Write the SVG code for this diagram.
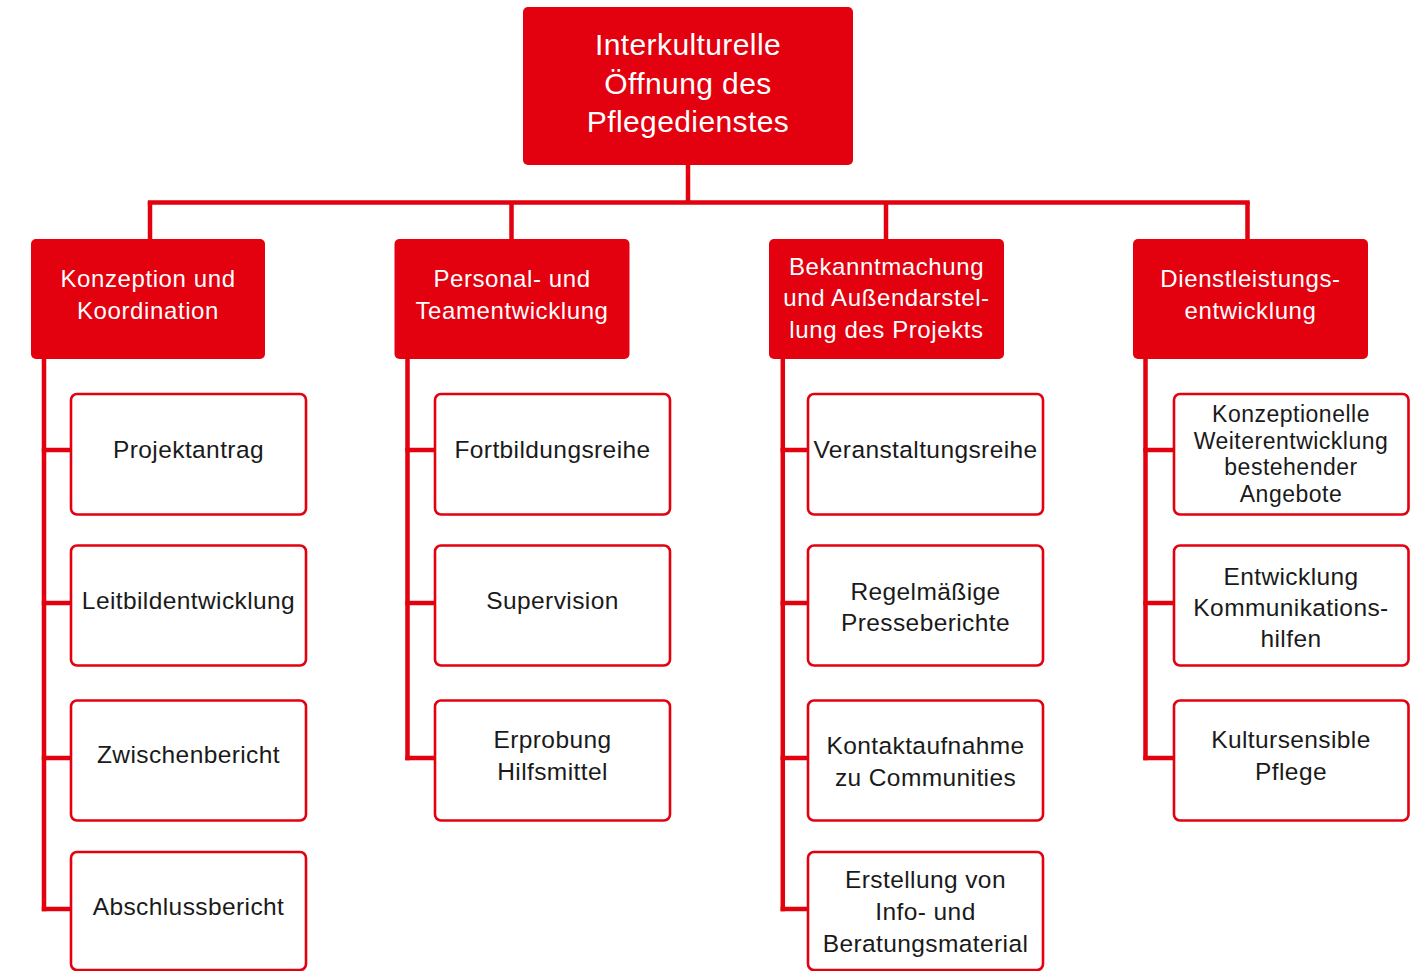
<svg xmlns="http://www.w3.org/2000/svg" width="1417" height="971" viewBox="0 0 1417 971">
<style>
.bg{fill:#ffffff}
.root,.head{fill:#e3000f}
.leaf{fill:#ffffff;stroke:#e3000f;stroke-width:2.6}
.conn line{stroke:#e3000f;stroke-width:4.5;stroke-linecap:butt}
text{font-family:"Liberation Sans",Arial,sans-serif;text-anchor:middle}
.t0{fill:#ffffff;font-size:30px;letter-spacing:0.4px}
.t1{fill:#ffffff;font-size:24px;letter-spacing:0.6px}
.t2{fill:#1a1a1a;font-size:24.5px;letter-spacing:0.4px}
.t3{fill:#1a1a1a;font-size:23px;letter-spacing:0.5px}
</style>
<rect class="bg" x="0" y="0" width="1417" height="971"/>
<g id="connectors" class="conn">
<line x1="688" y1="165" x2="688" y2="203"/>
<line x1="147.8" y1="202.5" x2="1249.7" y2="202.5"/>
<line x1="150" y1="202" x2="150" y2="240"/>
<line x1="511.5" y1="202" x2="511.5" y2="240"/>
<line x1="886" y1="202" x2="886" y2="240"/>
<line x1="1247.5" y1="202" x2="1247.5" y2="240"/>
<line x1="44" y1="358" x2="44" y2="911.3"/>
<line x1="41.8" y1="450" x2="71" y2="450"/>
<line x1="41.8" y1="603" x2="71" y2="603"/>
<line x1="41.8" y1="758" x2="71" y2="758"/>
<line x1="41.8" y1="909" x2="71" y2="909"/>
<line x1="407.5" y1="358" x2="407.5" y2="760.3"/>
<line x1="405.3" y1="450" x2="435" y2="450"/>
<line x1="405.3" y1="603" x2="435" y2="603"/>
<line x1="405.3" y1="758" x2="435" y2="758"/>
<line x1="782.8" y1="358" x2="782.8" y2="911.3"/>
<line x1="780.6" y1="450" x2="808" y2="450"/>
<line x1="780.6" y1="603" x2="808" y2="603"/>
<line x1="780.6" y1="758" x2="808" y2="758"/>
<line x1="780.6" y1="909" x2="808" y2="909"/>
<line x1="1145.5" y1="358" x2="1145.5" y2="760.3"/>
<line x1="1143.3" y1="450" x2="1174" y2="450"/>
<line x1="1143.3" y1="603" x2="1174" y2="603"/>
<line x1="1143.3" y1="758" x2="1174" y2="758"/>
</g>
<g id="root">
<rect class="root" x="523" y="7" width="330" height="158" rx="5"/>
<text class="t0" x="688" y="55">Interkulturelle</text>
<text class="t0" x="688" y="94">Öffnung des</text>
<text class="t0" x="688" y="132">Pflegedienstes</text>
</g>
<g id="h1">
<rect class="head" x="31" y="239" width="234" height="120" rx="5"/>
<text class="t1" x="148" y="287">Konzeption und</text>
<text class="t1" x="148" y="319">Koordination</text>
</g>
<g id="h2">
<rect class="head" x="394.5" y="239" width="235" height="120" rx="5"/>
<text class="t1" x="512" y="287">Personal- und</text>
<text class="t1" x="512" y="319">Teamentwicklung</text>
</g>
<g id="h3">
<rect class="head" x="769" y="239" width="235" height="120" rx="5"/>
<text class="t1" x="886.5" y="275">Bekanntmachung</text>
<text class="t1" x="886.5" y="306">und Außendarstel-</text>
<text class="t1" x="886.5" y="338">lung des Projekts</text>
</g>
<g id="h4">
<rect class="head" x="1133" y="239" width="235" height="120" rx="5"/>
<text class="t1" x="1250.5" y="287">Dienstleistungs-</text>
<text class="t1" x="1250.5" y="319">entwicklung</text>
</g>
<g id="c1r1"><rect class="leaf" x="71" y="394" width="235" height="120.5" rx="6"/><text class="t2" x="188.5" y="458">Projektantrag</text></g>
<g id="c1r2"><rect class="leaf" x="71" y="545.5" width="235" height="120" rx="6"/><text class="t2" x="188.5" y="609">Leitbildentwicklung</text></g>
<g id="c1r3"><rect class="leaf" x="71" y="700.5" width="235" height="120" rx="6"/><text class="t2" x="188.5" y="763">Zwischenbericht</text></g>
<g id="c1r4"><rect class="leaf" x="71" y="852" width="235" height="118" rx="6"/><text class="t2" x="188.5" y="915">Abschlussbericht</text></g>
<g id="c2r1"><rect class="leaf" x="435" y="394" width="235" height="120.5" rx="6"/><text class="t2" x="552.5" y="458">Fortbildungsreihe</text></g>
<g id="c2r2"><rect class="leaf" x="435" y="545.5" width="235" height="120" rx="6"/><text class="t2" x="552.5" y="609">Supervision</text></g>
<g id="c2r3"><rect class="leaf" x="435" y="700.5" width="235" height="120" rx="6"/><text class="t2" x="552.5" y="748">Erprobung</text><text class="t2" x="552.5" y="780">Hilfsmittel</text></g>
<g id="c3r1"><rect class="leaf" x="808" y="394" width="235" height="120.5" rx="6"/><text class="t2" x="925.5" y="458">Veranstaltungsreihe</text></g>
<g id="c3r2"><rect class="leaf" x="808" y="545.5" width="235" height="120" rx="6"/><text class="t2" x="925.5" y="600">Regelmäßige</text><text class="t2" x="925.5" y="631">Presseberichte</text></g>
<g id="c3r3"><rect class="leaf" x="808" y="700.5" width="235" height="120" rx="6"/><text class="t2" x="925.5" y="754">Kontaktaufnahme</text><text class="t2" x="925.5" y="786">zu Communities</text></g>
<g id="c3r4"><rect class="leaf" x="808" y="852" width="235" height="118" rx="6"/><text class="t2" x="925.5" y="888">Erstellung von</text><text class="t2" x="925.5" y="920">Info- und</text><text class="t2" x="925.5" y="952">Beratungsmaterial</text></g>
<g id="c4r1"><rect class="leaf" x="1174" y="394" width="234.5" height="120.5" rx="6"/><text class="t3" x="1291" y="422">Konzeptionelle</text><text class="t3" x="1291" y="448.5">Weiterentwicklung</text><text class="t3" x="1291" y="475">bestehender</text><text class="t3" x="1291" y="501.5">Angebote</text></g>
<g id="c4r2"><rect class="leaf" x="1174" y="545.5" width="234.5" height="120" rx="6"/><text class="t2" x="1291" y="585">Entwicklung</text><text class="t2" x="1291" y="616">Kommunikations-</text><text class="t2" x="1291" y="647">hilfen</text></g>
<g id="c4r3"><rect class="leaf" x="1174" y="700.5" width="234.5" height="120" rx="6"/><text class="t2" x="1291" y="748">Kultursensible</text><text class="t2" x="1291" y="780">Pflege</text></g>
</svg>
